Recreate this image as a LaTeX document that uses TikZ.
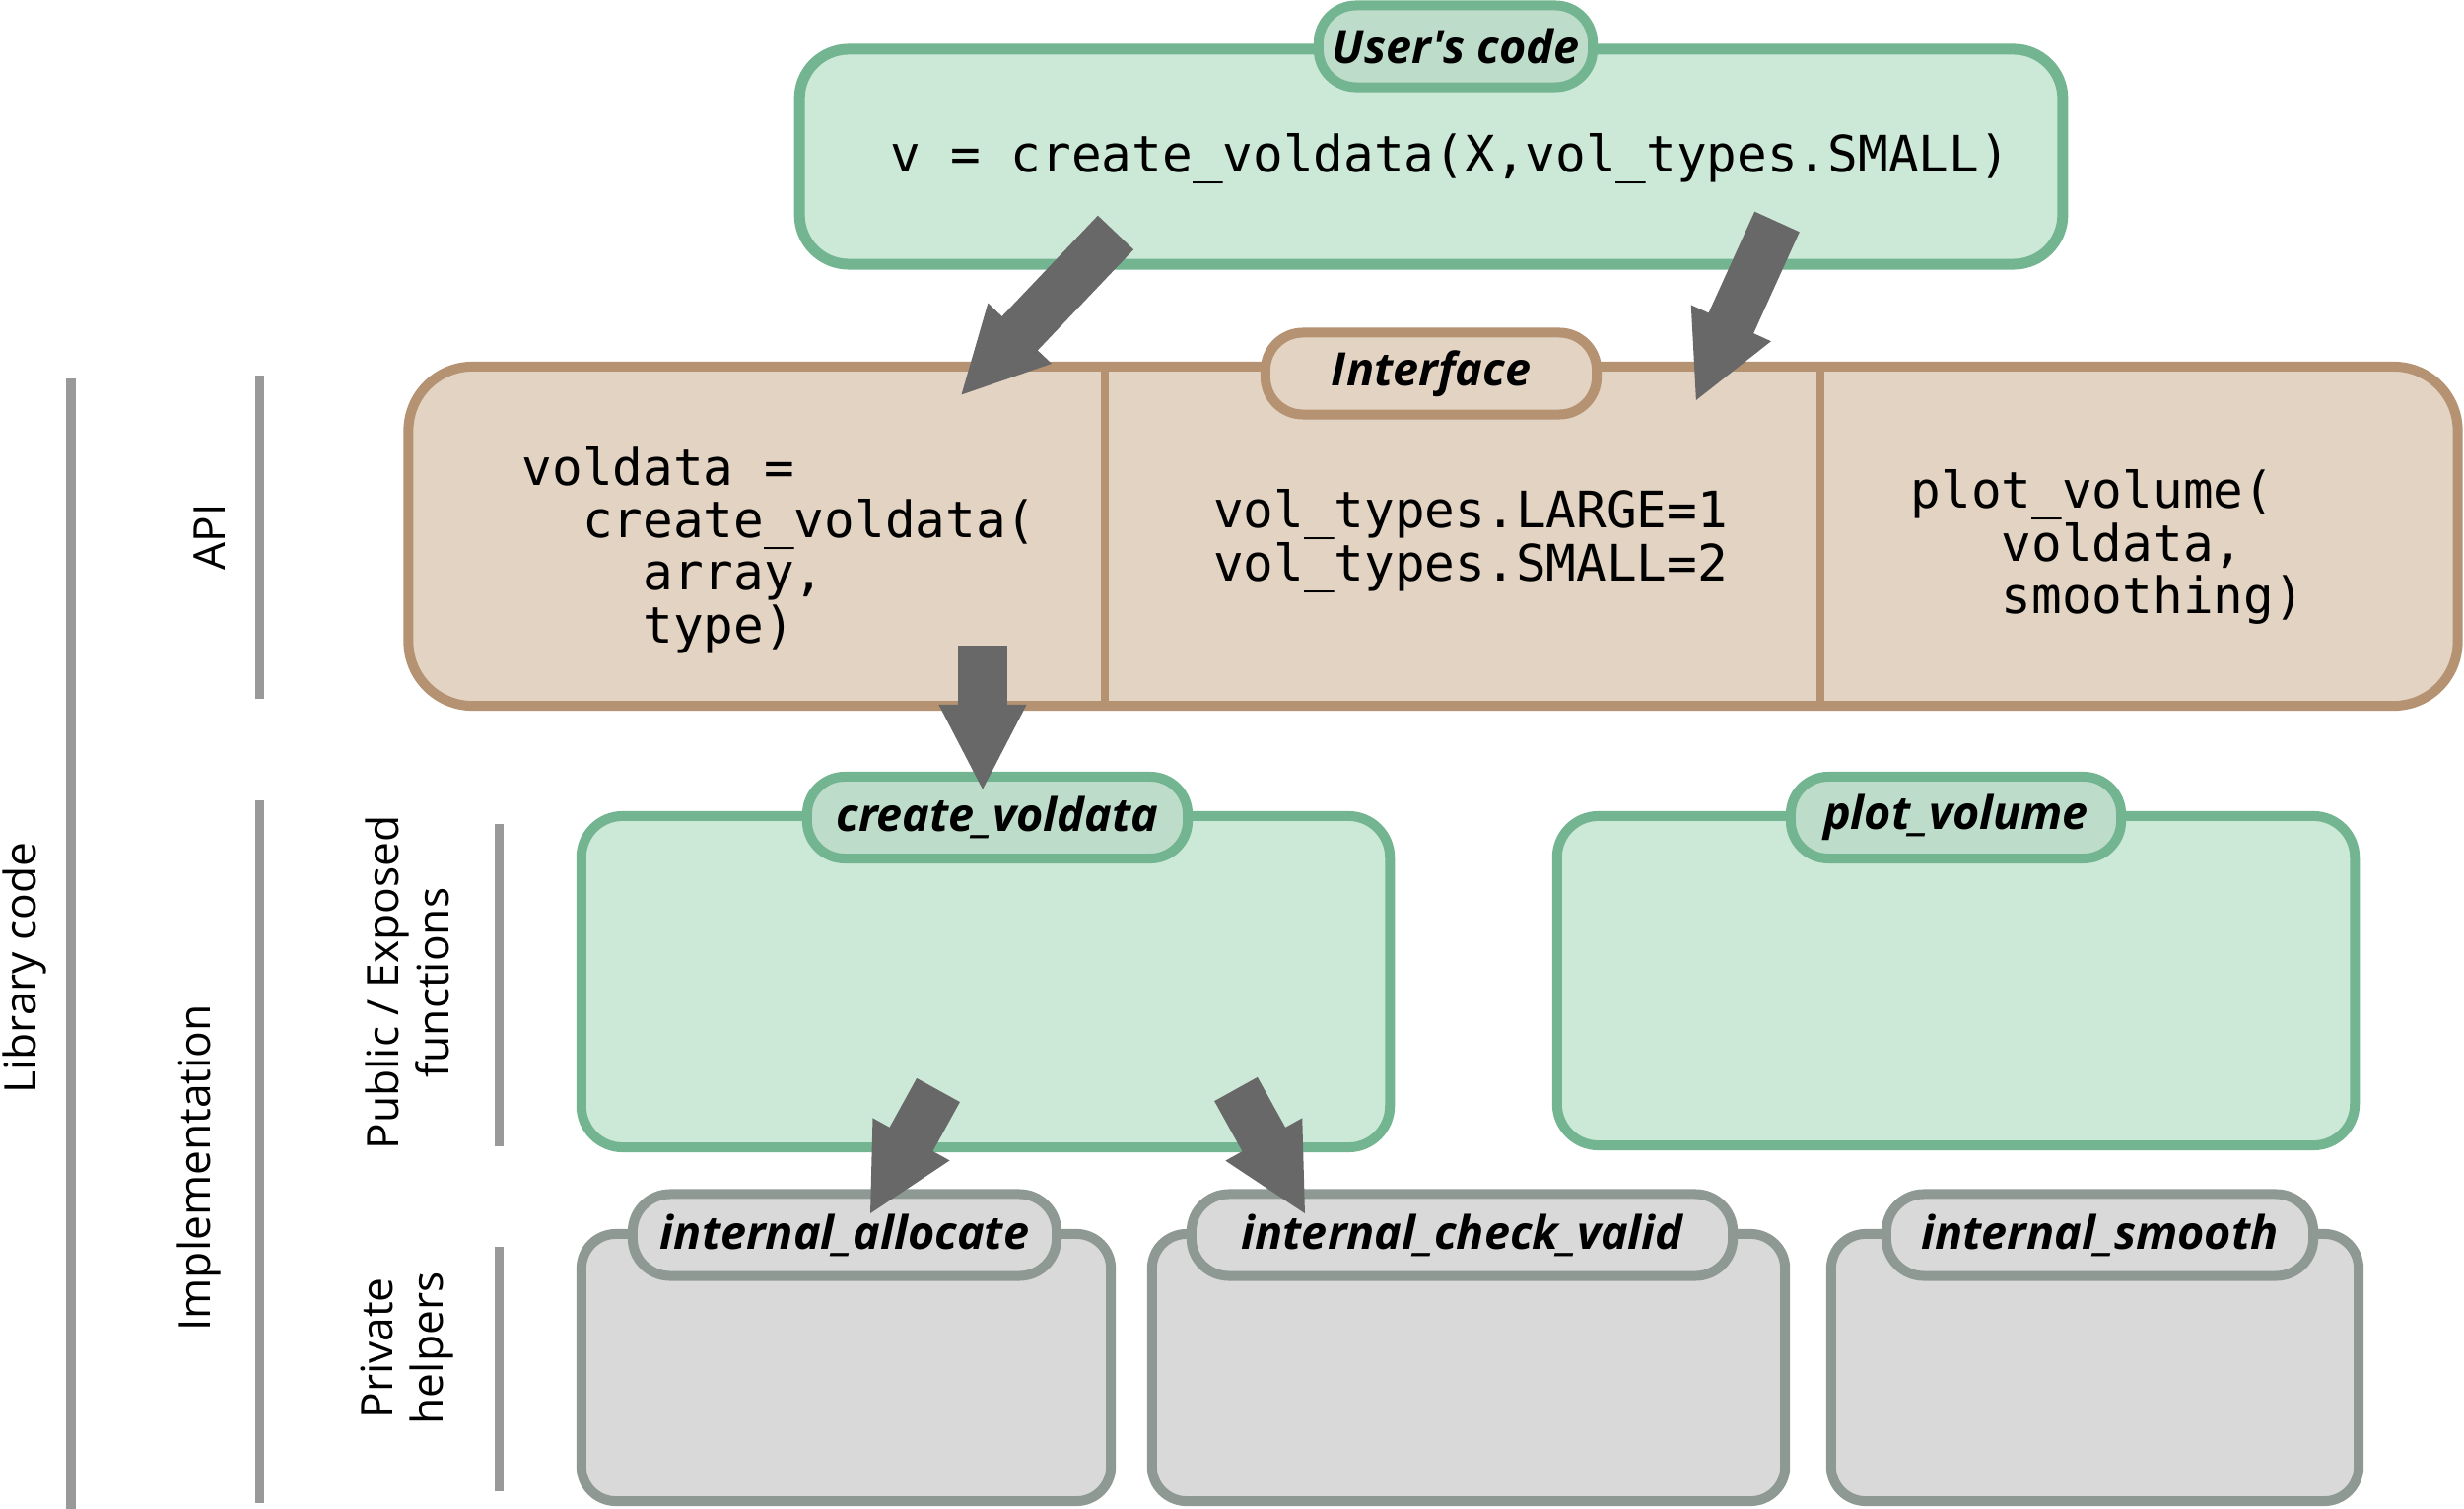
\documentclass[tikz,border=0pt]{standalone}
\usepackage{fontspec}
\setmainfont{Open Sans}
\setmonofont{DejaVu Sans Mono}
\newfontfamily\tabfont{Open Sans}
\usetikzlibrary{positioning, arrows.meta, calc}
\definecolor{grnline}{HTML}{73B590}
\definecolor{grnfill}{HTML}{CCE8D7}
\definecolor{grntab}{HTML}{BEDCCA}
\definecolor{brnline}{HTML}{B59271}
\definecolor{brnfill}{HTML}{E2D3C2}
\definecolor{gryline}{HTML}{8F9993}
\definecolor{gryfill}{HTML}{D9D9D9}
\definecolor{bargray}{HTML}{999999}
\definecolor{arrgray}{HTML}{686868}
\tikzset{
    usrbox/.style={rectangle, rounded corners=0.5cm, draw=grnline, fill=grnfill, line width=0.11cm, inner sep=0pt, outer sep=0pt},
    apibox/.style={rectangle, rounded corners=0.65cm, draw=brnline, fill=brnfill, line width=0.1cm, inner sep=0pt, outer sep=0pt},
    pubbox/.style={rectangle, rounded corners=0.42cm, draw=grnline, fill=grnfill, line width=0.1cm, inner sep=0pt, outer sep=0pt},
    privbox/.style={rectangle, rounded corners=0.35cm, draw=gryline, fill=gryfill, line width=0.1cm, inner sep=0pt, outer sep=0pt},
    tablbl/.style={rectangle, rounded corners=0.38cm, line width=0.1cm, minimum height=0.83cm, inner sep=0pt, outer sep=0pt, font=\fontsize{13.3}{15}\tabfont\bfseries\itshape},
    grntablbl/.style={tablbl, draw=grnline, fill=grntab},
    brntablbl/.style={tablbl, draw=brnline, fill=brnfill},
    grytablbl/.style={tablbl, draw=gryline, fill=gryfill},
    codetxt/.style={font=\fontsize{14.5}{15.2}\selectfont\ttfamily, align=left, inner sep=0pt},
    sidelbl/.style={font=\fontsize{12.6}{14.5}\selectfont, rotate=90, align=center, inner sep=0pt},
    barline/.style={line width=0.09cm, draw=bargray},
    divline/.style={line width=0.08cm, draw=brnline},
    arr/.style={line width=0.5cm, draw=arrgray, -{Triangle[length=0.88cm, width=0.82cm]}}
}

\begin{document}
\begin{tikzpicture}[x=0.01cm, y=-0.01cm]
    \useasboundingbox (0,0) rectangle (2500,1531);
    % side brackets
    \draw[barline] (72,384) -- (72,1531);
    \draw[barline] (263,381) -- (263,709);
    \draw[barline] (263,812) -- (263,1525);
    \draw[barline] (506,836) -- (506,1163);
    \draw[barline] (506,1265) -- (506,1513);
    \node[sidelbl] (lib) at (25,982) {Library code};
    \node[sidelbl] (apilbl) at (213,545) {API};
    \node[sidelbl] (impl) at (202,1185) {Implementation};
    \node[sidelbl] (publbl) at (413,997) {Public / Exposed\\functions};
    \node[sidelbl] (privlbl) at (413,1368) {Private\\helpers};
    % user's code
    \node[usrbox, minimum width=12.81cm, minimum height=2.18cm] (U) at (1452,159) {};
    \node[grntablbl, minimum width=2.78cm] (Utab) at (1477,47) {User's code};
    \node[codetxt] (Ucode) at (1471,161) {v = create\_voldata(X,vol\_types.SMALL)};
    % interface
    \node[apibox, minimum width=20.78cm, minimum height=3.44cm] (A) at (1454,544) {};
    \coordinate (d1) at (1121,0);
    \coordinate (d2) at (1847,0);
    \draw[divline] (A.north -| d1) -- (A.south -| d1);
    \draw[divline] (A.north -| d2) -- (A.south -| d2);
    \node[brntablbl, minimum width=3.36cm] (Atab) at (1452,379) {Interface};
    \node[codetxt, anchor=west] (Acreate) at (529,558)
      {voldata =\\\hphantom{xx}create\_voldata(\\\hphantom{xxxx}array,\\\hphantom{xxxx}type)};
    \node[codetxt] (Atypes) at (1492,549) {vol\_types.LARGE=1\\vol\_types.SMALL=2};
    \node[codetxt, anchor=west] (Aplot) at (1938,555)
      {plot\_volume(\\\hphantom{xxx}voldata,\\\hphantom{xxx}smoothing)};
    % public functions
    \node[pubbox, minimum width=8.2cm, minimum height=3.36cm] (C) at (1000,996) {};
    \node[grntablbl, minimum width=3.86cm] (Ctab) at (1012,829.5) {create\_voldata};
    \node[pubbox, minimum width=8.09cm, minimum height=3.34cm] (P) at (1984.5,995) {};
    \node[grntablbl, minimum width=3.35cm] (Ptab) at (1984.5,829.5) {plot\_volume};
    % private helpers
    \node[privbox, minimum width=5.37cm, minimum height=2.71cm] (H1) at (858.5,1387.5) {};
    \node[grytablbl, minimum width=4.3cm] (H1tab) at (857,1253) {internal\_allocate};
    \node[privbox, minimum width=6.42cm, minimum height=2.71cm] (H2) at (1490,1387.5) {};
    \node[grytablbl, minimum width=5.49cm] (H2tab) at (1483.5,1253) {internal\_check\_valid};
    \node[privbox, minimum width=5.35cm, minimum height=2.71cm] (H3) at (2125.5,1387.5) {};
    \node[grytablbl, minimum width=4.33cm] (H3tab) at (2130.5,1253) {internal\_smooth};
    % calls
    \coordinate (a1s) at (1132,236);  \coordinate (a1e) at (974,402);
    \coordinate (a2s) at (1803,225);  \coordinate (a2e) at (1720,408);
    \coordinate (a3s) at (997,655);   \coordinate (a3e) at (997,803);
    \coordinate (a4s) at (952,1106);  \coordinate (a4e) at (882,1233);
    \coordinate (a5s) at (1254,1105); \coordinate (a5e) at (1325,1233);
    \draw[arr] (a1s) -- (a1e);
    \draw[arr] (a2s) -- (a2e);
    \draw[arr] (a3s) -- (a3e);
    \draw[arr] (a4s) -- (a4e);
    \draw[arr] (a5s) -- (a5e);
\end{tikzpicture}
\end{document}
